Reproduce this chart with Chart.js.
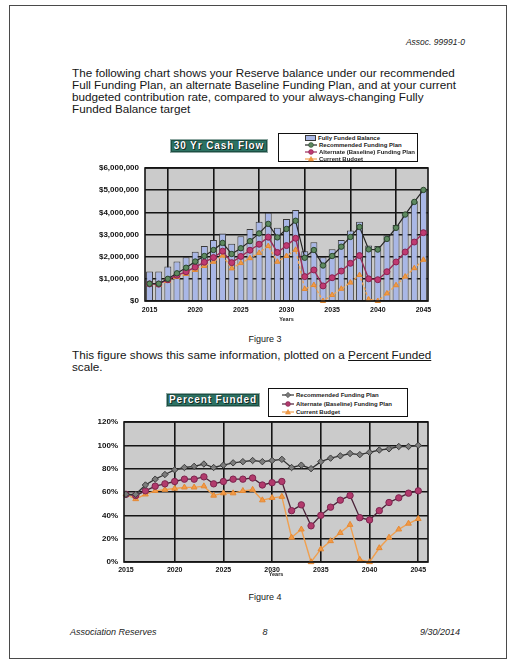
<!DOCTYPE html>
<html>
<head>
<meta charset="utf-8">
<script src="https://cdn.jsdelivr.net/npm/chart.js@4.4.1/dist/chart.umd.min.js"></script>
<style>
  html, body { margin: 0; padding: 0; background: #fff; }
  body { width: 512px; height: 661px; position: relative; overflow: hidden;
         font-family: "Liberation Sans", Arial, sans-serif; color: #151515; }
  .page { position: absolute; left: 9px; top: 5px; width: 498px; height: 654px;
          border: 1.5px solid #4a4a4a; box-sizing: border-box; }
  .abs { position: absolute; white-space: nowrap; }
  .para { font-size: 11.7px; line-height: 12px; }
  .cap { font-size: 9px; line-height: 10px; }
  .foot { font-size: 9px; line-height: 10px; font-style: italic; color: #222; }
  .ttl { position: absolute; background: #2c7262; border: 1px solid #8fa8a2;
         box-shadow: inset 0 0 0 1px #1d4f44; color: #fff; font-weight: bold;
         font-size: 10px; letter-spacing: 0.9px; text-align: center;
         text-shadow: 0 0 1px #000, 1px 1px 0 #10302a; box-sizing: border-box; }
  .lg { position: absolute; background: #fff; border: 1px solid #111; box-sizing: border-box; }
  .lg .row { position: absolute; left: 0; height: 7px; display: flex; align-items: center;
             font-size: 6px; font-weight: bold; color: #222; white-space: nowrap; }
  .lg svg { margin-right: 2px; }
  canvas { position: absolute; }
</style>
</head>
<body>
<div class="page"></div>

<div class="abs foot" style="right:47px; top:37px; font-size:8.5px;">Assoc. 99991-0</div>

<div class="abs para" style="left:72px; top:67px;">
The following chart shows your Reserve balance under our recommended<br>
Full Funding Plan, an alternate Baseline Funding Plan, and at your current<br>
budgeted contribution rate, compared to your always-changing Fully<br>
Funded Balance target
</div>

<canvas id="cash" width="360" height="200" style="left:80px; top:130px;"></canvas>
<div class="ttl" style="left:170px; top:139px; width:98px; height:14px; line-height:12px;">30 Yr Cash Flow</div>
<div class="lg" id="lg1" style="left:278px; top:133px; width:140px; height:29px;"></div>

<div class="abs cap" style="left:0; width:530px; text-align:center; top:334px;">Figure 3</div>

<div class="abs para" style="left:72px; top:349px;">
This figure shows this same information, plotted on a <u>Percent Funded</u><br>
scale.
</div>

<canvas id="pct" width="360" height="200" style="left:80px; top:385px;"></canvas>
<div class="ttl" style="left:166px; top:393px; width:94px; height:14px; line-height:12px;">Percent Funded</div>
<div class="lg" id="lg2" style="left:268px; top:388px; width:140px; height:29px;"></div>

<div class="abs cap" style="left:0; width:530px; text-align:center; top:592px;">Figure 4</div>

<div class="abs foot" style="left:70px; top:627px;">Association Reserves</div>
<div class="abs foot" style="left:0; width:530px; text-align:center; top:627px;">8</div>
<div class="abs foot" style="right:52px; top:627px;">9/30/2014</div>

<script>
// ---- 30 year cash flow (dollars) ----
const years = [2015, 2016, 2017, 2018, 2019, 2020, 2021, 2022, 2023, 2024,
               2025, 2026, 2027, 2028, 2029, 2030, 2031, 2032, 2033, 2034,
               2035, 2036, 2037, 2038, 2039, 2040, 2041, 2042, 2043, 2044, 2045];

const fullyFundedBalance = [1330000, 1330000, 1560000, 1780000, 1970000, 2220000, 2480000, 2750000, 3050000, 2580000,
                            2920000, 3250000, 3580000, 3980000, 3310000, 3700000, 4100000, 2250000, 2650000, 1970000,
                            2330000, 2750000, 3180000, 3570000, 2500000, 2480000, 2970000, 3430000, 3980000, 4500000, 5030000];

const recommendedPlan = [780000, 780000, 1000000, 1250000, 1500000, 1780000, 2030000, 2300000, 2620000, 2120000,
                         2380000, 2700000, 3050000, 3480000, 2870000, 3250000, 3620000, 1950000, 2300000, 1600000,
                         2030000, 2450000, 2890000, 3340000, 2330000, 2320000, 2800000, 3300000, 3900000, 4470000, 5010000];

const baselinePlan = [770000, 760000, 960000, 1160000, 1320000, 1530000, 1750000, 1960000, 2250000, 1730000,
                      2010000, 2290000, 2560000, 2880000, 2190000, 2500000, 2830000, 1100000, 1400000, 680000,
                      1050000, 1350000, 1700000, 2050000, 1000000, 960000, 1320000, 1760000, 2210000, 2660000, 3080000];

const currentBudget = [770000, 720000, 900000, 1080000, 1220000, 1400000, 1580000, 1770000, 2050000, 1470000,
                       1710000, 1930000, 2170000, 2480000, 1770000, 2030000, 2310000, 540000, 720000, 0,
                       270000, 550000, 830000, 1170000, 70000, 0, 340000, 710000, 1100000, 1480000, 1860000];

// ---- percent funded (%) ----
const pctRecommended = [58, 58, 66, 71, 75, 79, 81, 82, 84, 81,
                        83, 85, 86, 87, 86, 87, 88, 81, 83, 80,
                        86, 89, 91, 93, 92, 94, 96, 97, 99, 99, 100];
const pctBaseline = [58, 57, 61, 65, 67, 69, 71, 71, 73, 67,
                     69, 71, 71, 72, 66, 68, 69, 44, 49, 31,
                     40, 47, 53, 57, 38, 36, 44, 51, 55, 59, 61];
const pctCurrent = [58, 54, 58, 61, 62, 63, 64, 64, 65, 57,
                    59, 59, 61, 62, 53, 55, 56, 21, 28, 0,
                    11, 18, 25, 32, 2, 0, 12, 21, 28, 33, 37];

// ---- axis ticks ----
const yearTicks = [2015, 2020, 2025, 2030, 2035, 2040, 2045];
const cashGridYears = [2019.5, 2024.5, 2029.5, 2034.5, 2039.5, 2044.5];
const dollarTicks = [0, 1000000, 2000000, 3000000, 4000000, 5000000, 6000000];
const percentTicks = [0, 20, 40, 60, 80, 100, 120];

const FONT = '"Liberation Sans", Arial, sans-serif';
const GRID = '#151515';
const PLOT_BG = '#cbcbcb';

const xy = (vals) => vals.map((v, i) => ({ x: years[i], y: v }));
const fixedTicks = (list) => (scale) => { scale.ticks = list.map(v => ({ value: v })); };

// Grey plot area and a black frame around it
const plotFrame = {
  id: 'plotFrame',
  beforeDraw(chart) {
    const { ctx, chartArea: a } = chart;
    ctx.save();
    ctx.fillStyle = PLOT_BG;
    ctx.fillRect(a.left, a.top, a.width, a.height);
    ctx.restore();
  },
  afterDraw(chart) {
    const { ctx, chartArea: a } = chart;
    ctx.save();
    ctx.strokeStyle = GRID;
    ctx.lineWidth = 1.6;
    ctx.strokeRect(a.left, a.top, a.width, a.height);
    ctx.restore();
  }
};

const tickFont = { family: FONT, size: 8, weight: 'bold' };
const xTickFont = { family: FONT, size: 7, weight: 'bold' };

// Series styles shared by the chart and its legend
const sRec1 = { borderColor: '#262626', pointStyle: 'circle', pointRadius: 2.7,
                pointBackgroundColor: '#5e8a60', pointBorderColor: '#2b472d' };
const sAlt1 = { borderColor: '#9a2c5c', pointStyle: 'circle', pointRadius: 3,
                pointBackgroundColor: '#c03a72', pointBorderColor: '#8a2450' };
const sCur1 = { borderColor: '#f0a455', pointStyle: 'triangle', pointRadius: 3,
                pointBackgroundColor: '#f39a45', pointBorderColor: '#e08a35', borderDash: [3, 2] };

new Chart(document.getElementById('cash'), {
  type: 'bar',
  data: {
    datasets: [
      Object.assign({ type: 'line', label: 'Recommended Funding Plan', data: xy(recommendedPlan),
        order: 1, borderWidth: 1.2, pointBorderWidth: 1 }, sRec1),
      Object.assign({ type: 'line', label: 'Alternate (Baseline) Funding Plan', data: xy(baselinePlan),
        order: 2, borderWidth: 1.4, pointBorderWidth: 1 }, sAlt1),
      Object.assign({ type: 'line', label: 'Current Budget', data: xy(currentBudget),
        order: 3, borderWidth: 1.4, pointBorderWidth: 1, clip: false }, sCur1),
      { type: 'bar', label: 'Fully Funded Balance', data: xy(fullyFundedBalance), order: 10,
        backgroundColor: '#a9b7e6', borderColor: '#3a3a3a', borderWidth: 1,
        barPercentage: 0.76, categoryPercentage: 1 }
    ]
  },
  options: {
    responsive: false, animation: false,
    layout: { padding: { left: 0, right: 12, top: 38, bottom: 7 } },
    plugins: { legend: { display: false }, tooltip: { enabled: false } },
    scales: {
      x: {
        type: 'linear', min: 2014.5, max: 2045.5, offset: false,
        afterBuildTicks: fixedTicks(yearTicks),
        grid: { display: false, drawTicks: false }, border: { display: false },
        ticks: { font: xTickFont, color: '#111', padding: 5, maxRotation: 0, callback: v => String(v) },
        title: { display: true, text: 'Years', font: { family: FONT, size: 5.5, weight: 'bold' },
                 color: '#222', padding: 0 },
        afterFit: s => { s.height = 22; }
      },
      xg: {
        type: 'linear', position: 'bottom', min: 2014.5, max: 2045.5, offset: false,
        afterBuildTicks: fixedTicks(cashGridYears),
        ticks: { display: false },
        grid: { color: GRID, lineWidth: 1.6, drawTicks: false }, border: { display: false },
        afterFit: s => { s.height = 0; }
      },
      y: {
        min: 0, max: 6000000,
        afterBuildTicks: fixedTicks(dollarTicks),
        ticks: { font: tickFont, color: '#111', padding: 6,
                 callback: v => '$' + Number(v).toLocaleString('en-US') },
        grid: { color: GRID, lineWidth: 1.6, drawTicks: false }, border: { display: false },
        afterFit: s => { s.width = 65; }
      }
    }
  },
  plugins: [plotFrame]
});

const sRec2 = { borderColor: '#333', pointStyle: 'rectRot', pointRadius: 3.2,
                pointBackgroundColor: '#7c7c7c', pointBorderColor: '#3c3c3c' };
const sAlt2 = { borderColor: '#4a2238', pointStyle: 'circle', pointRadius: 3.2,
                pointBackgroundColor: '#b23a6c', pointBorderColor: '#7e2550' };
const sCur2 = { borderColor: '#f0a050', pointStyle: 'triangle', pointRadius: 3.3,
                pointBackgroundColor: '#f39a45', pointBorderColor: '#e58a35' };

new Chart(document.getElementById('pct'), {
  type: 'line',
  data: {
    datasets: [
      Object.assign({ label: 'Recommended Funding Plan', data: xy(pctRecommended),
        borderWidth: 1.3, pointBorderWidth: 1 }, sRec2),
      Object.assign({ label: 'Alternate (Baseline) Funding Plan', data: xy(pctBaseline),
        borderWidth: 1.3, pointBorderWidth: 1 }, sAlt2),
      Object.assign({ label: 'Current Budget', data: xy(pctCurrent),
        borderWidth: 1.4, pointBorderWidth: 1, clip: false }, sCur2)
    ]
  },
  options: {
    responsive: false, animation: false,
    layout: { padding: { left: 0, right: 12, top: 37, bottom: 7 } },
    plugins: { legend: { display: false }, tooltip: { enabled: false } },
    scales: {
      x: {
        type: 'linear', min: 2014.8, max: 2046, offset: false,
        afterBuildTicks: fixedTicks(yearTicks),
        grid: { color: c => (c.tick && c.tick.value === 2015 ? 'rgba(0,0,0,0)' : GRID),
                lineWidth: 1.6, drawTicks: false },
        border: { display: false },
        ticks: { font: xTickFont, color: '#111', padding: 4, maxRotation: 0, callback: v => String(v) },
        title: { display: true, text: 'Years', font: { family: FONT, size: 5.5, weight: 'bold' },
                 color: '#222', padding: 0 },
        afterFit: s => { s.height = 16; }
      },
      y: {
        min: 0, max: 120,
        afterBuildTicks: fixedTicks(percentTicks),
        ticks: { font: tickFont, color: '#111', padding: 6, callback: v => v + '%' },
        grid: { color: GRID, lineWidth: 1.6, drawTicks: false }, border: { display: false },
        afterFit: s => { s.width = 44; }
      }
    }
  },
  plugins: [plotFrame]
});

// Legend boxes
function swatch(s, isBar) {
  if (isBar) {
    return '<svg width="11" height="6"><rect x="0.5" y="0.5" width="10" height="5" fill="#a9b7e6" stroke="#3a3a3a"/></svg>';
  }
  let m = '';
  const c = s.pointBackgroundColor, b = s.pointBorderColor;
  if (s.pointStyle === 'triangle') m = `<polygon points="6,0.5 8.5,5 3.5,5" fill="${c}" stroke="${b}" stroke-width="0.6"/>`;
  else if (s.pointStyle === 'rectRot') m = `<polygon points="6,0.3 8.7,3 6,5.7 3.3,3" fill="${c}" stroke="${b}" stroke-width="0.6"/>`;
  else m = `<circle cx="6" cy="3" r="2.4" fill="${c}" stroke="${b}" stroke-width="0.6"/>`;
  return `<svg width="12" height="6"><line x1="0" y1="3" x2="12" y2="3" stroke="${s.borderColor}" stroke-width="1.2"/>${m}</svg>`;
}
function legend(id, rows, left, top, step) {
  const el = document.getElementById(id);
  el.innerHTML = rows.map((r, i) =>
    `<div class="row" style="left:${left}px; top:${top + i * step}px;">${swatch(r.s, r.bar)}<span>${r.t}</span></div>`
  ).join('');
}
legend('lg1', [
  { t: 'Fully Funded Balance', bar: true, s: {} },
  { t: 'Recommended Funding Plan', s: sRec1 },
  { t: 'Alternate (Baseline) Funding Plan', s: sAlt1 },
  { t: 'Current Budget', s: sCur1 }
], 26, 0, 7.2);
legend('lg2', [
  { t: 'Recommended Funding Plan', s: sRec2 },
  { t: 'Alternate (Baseline) Funding Plan', s: sAlt2 },
  { t: 'Current Budget', s: sCur2 }
], 13, 2.5, 8.5);
</script>
</body>
</html>
